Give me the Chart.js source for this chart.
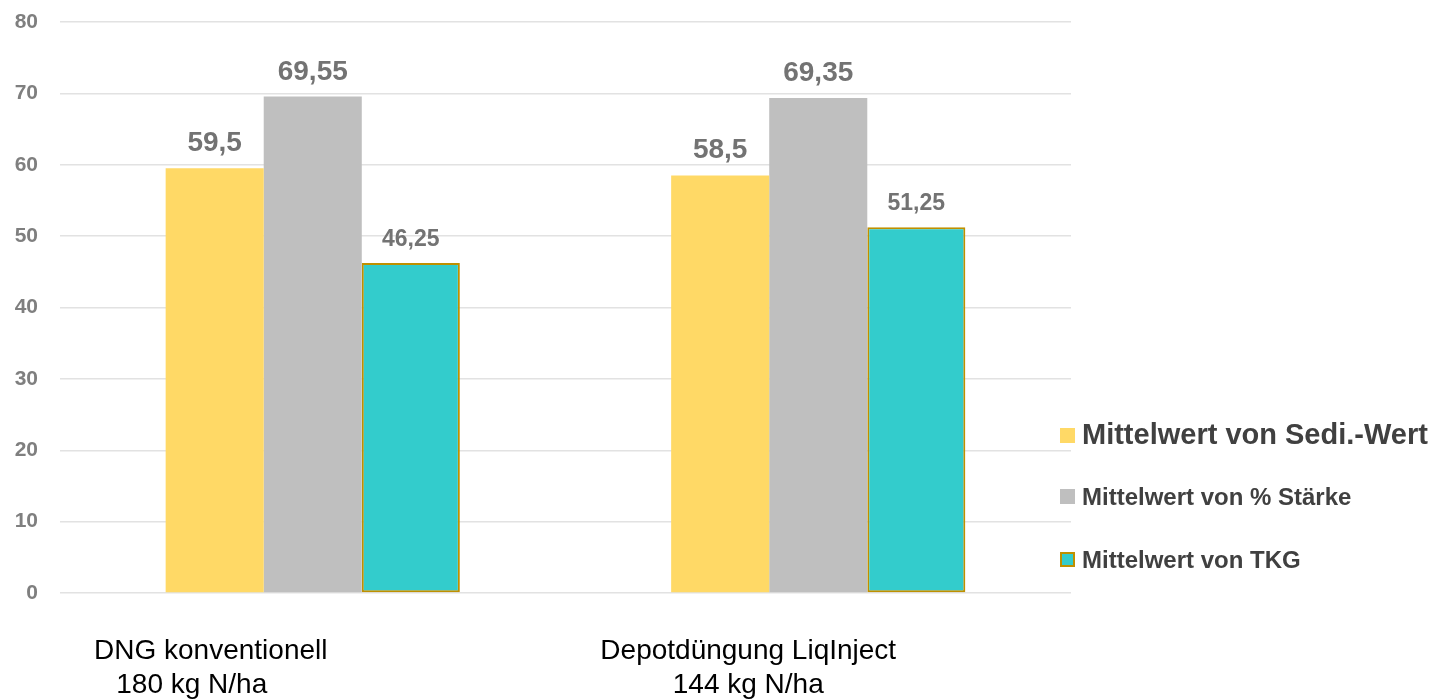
<!DOCTYPE html>
<html lang="de">
<head>
<meta charset="utf-8">
<title>Mittelwerte nach Düngevariante</title>
<script src="https://cdn.jsdelivr.net/npm/chart.js@4.4.1/dist/chart.umd.min.js"></script>
<style>
  html, body { margin: 0; padding: 0; background: #ffffff; }
  .chart-box { position: relative; width: 1437px; height: 700px; }
</style>
</head>
<body>
<div class="chart-box"><canvas id="duengung-chart"></canvas></div>
<script>
'use strict';

// Kategorien (zweizeilige Beschriftung)
const categories = [
  ['DNG konventionell', '180 kg N/ha'],
  ['Depotdüngung LiqInject', '144 kg N/ha'],
];
const seriesNames = ['Mittelwert von Sedi.-Wert', 'Mittelwert von % Stärke', 'Mittelwert von TKG'];
const sediWert = [59.5, 58.5];
const staerke = [69.55, 69.35];
const tkg = [46.25, 51.25];
const yTicks = [0, 10, 20, 30, 40, 50, 60, 70, 80];

const COLORS = {
  sedi: '#ffd966',
  staerke: '#bfbfbf',
  tkg: '#33cccc',
  tkgBorder: '#bf9000',
  grid: '#e2e2e2',
  tick: '#7f7f7f',
  value: '#737373',
  legend: '#404040',
  category: '#000000',
};
const FONT = '"Liberation Sans", Arial, sans-serif';

// Werte über den Balken (deutsches Dezimalkomma)
const valueLabels = {
  id: 'valueLabels',
  afterDatasetsDraw(chart) {
    const ctx = chart.ctx;
    ctx.save();
    ctx.fillStyle = COLORS.value;
    ctx.textAlign = 'center';
    ctx.textBaseline = 'alphabetic';
    chart.data.datasets.forEach((ds, di) => {
      ctx.font = `bold ${ds.labelSize}px ${FONT}`;
      chart.getDatasetMeta(di).data.forEach((bar, i) => {
        const txt = String(ds.data[i]).replace('.', ',');
        ctx.fillText(txt, bar.x, bar.y - 17);
      });
    });
    ctx.restore();
  },
};

// Kategorie-Beschriftung unter der x-Achse, leicht nach links versetzt
const lineShift = [[-102, -121], [-70, -70]];
const categoryLabels = {
  id: 'categoryLabels',
  afterDraw(chart) {
    const ctx = chart.ctx;
    const x = chart.scales.x;
    const bottom = chart.chartArea.bottom;
    ctx.save();
    ctx.fillStyle = COLORS.category;
    ctx.font = `28px ${FONT}`;
    ctx.textAlign = 'center';
    ctx.textBaseline = 'alphabetic';
    categories.forEach((lines, i) => {
      const cx = x.getPixelForValue(i);
      lines.forEach((line, li) => {
        ctx.fillText(line, cx + lineShift[i][li], bottom + 66 + li * 34);
      });
    });
    ctx.restore();
  },
};

// Legende rechts, erster Eintrag größer
const sideLegend = {
  id: 'sideLegend',
  afterDraw(chart) {
    const ctx = chart.ctx;
    const left = chart.chartArea.right - 11;
    const baselines = [444, 505, 568];
    const sizes = [29, 24, 24];
    ctx.save();
    ctx.textAlign = 'left';
    ctx.textBaseline = 'alphabetic';
    chart.data.datasets.forEach((ds, i) => {
      const y = baselines[i];
      ctx.fillStyle = ds.backgroundColor;
      ctx.fillRect(left, y - 16, 15, 15);
      if (ds.borderWidth) {
        ctx.strokeStyle = ds.borderColor;
        ctx.lineWidth = 2;
        ctx.strokeRect(left + 1, y - 15, 13, 13);
      }
      ctx.fillStyle = COLORS.legend;
      ctx.font = `bold ${sizes[i]}px ${FONT}`;
      ctx.fillText(ds.label, left + 22, y);
    });
    ctx.restore();
  },
};

new Chart(document.getElementById('duengung-chart'), {
  type: 'bar',
  data: {
    labels: categories,
    datasets: [
      {
        label: seriesNames[0],
        data: sediWert,
        backgroundColor: COLORS.sedi,
        borderWidth: 0,
        labelSize: 28,
      },
      {
        label: seriesNames[1],
        data: staerke,
        backgroundColor: COLORS.staerke,
        borderWidth: 0,
        labelSize: 28,
      },
      {
        label: seriesNames[2],
        data: tkg,
        backgroundColor: COLORS.tkg,
        borderColor: COLORS.tkgBorder,
        borderWidth: 2,
        borderSkipped: false,
        labelSize: 23,
      },
    ],
  },
  options: {
    responsive: true,
    maintainAspectRatio: false,
    animation: false,
    categoryPercentage: 0.582,
    barPercentage: 1,
    layout: { padding: { top: 22, right: 366, bottom: 0, left: 0 } },
    plugins: {
      legend: { display: false },
      tooltip: { enabled: false },
    },
    scales: {
      x: {
        grid: { display: false },
        border: { display: false },
        ticks: { display: false },
        afterFit: (scale) => { scale.height = 107; },
      },
      y: {
        min: 0,
        max: 80,
        afterBuildTicks: (scale) => { scale.ticks = yTicks.map(v => ({ value: v })); },
        grid: { color: COLORS.grid, lineWidth: 1.5, drawTicks: false },
        border: { display: false },
        ticks: {
          color: COLORS.tick,
          padding: 22,
          font: { family: FONT, size: 21, weight: 'bold' },
        },
        afterFit: (scale) => {
          scale.width = 60;
          // der Abstand der Beschriftung soll den Plotbereich nicht verkleinern
          scale.paddingTop = 0;
          scale.paddingBottom = 0;
        },
      },
    },
  },
  plugins: [valueLabels, categoryLabels, sideLegend],
});
</script>
</body>
</html>
